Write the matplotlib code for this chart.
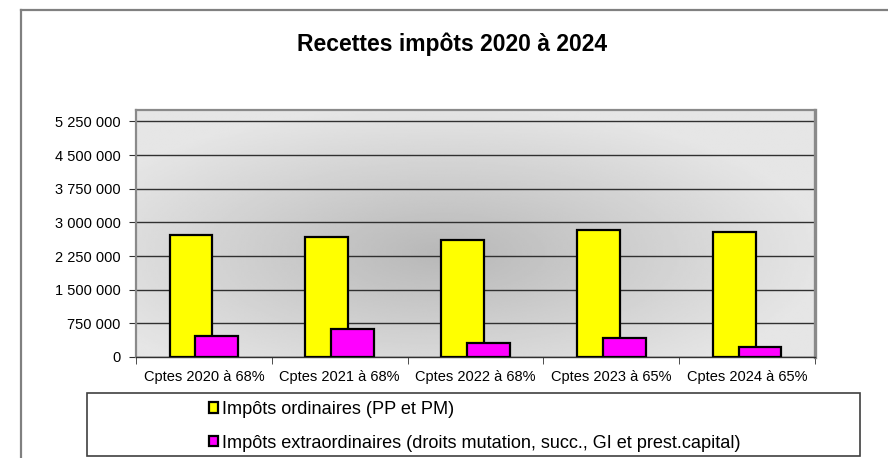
import numpy as np
import matplotlib
matplotlib.use("Agg")
import matplotlib.pyplot as plt
from matplotlib.patches import Patch, Rectangle
from matplotlib.lines import Line2D
from matplotlib.ticker import FuncFormatter

plt.rcParams["font.family"] = ["Liberation Sans", "DejaVu Sans"]

categories = ["Cptes 2020 à 68%", "Cptes 2021 à 68%", "Cptes 2022 à 68%",
              "Cptes 2023 à 65%", "Cptes 2024 à 65%"]
ordinaires = [2715000, 2680000, 2598000, 2821000, 2783000]
extraordinaires = [467000, 625000, 312000, 417000, 216000]
series_names = ["Impôts ordinaires (PP et PM)",
                "Impôts extraordinaires (droits mutation, succ., GI et prest.capital)"]
yticks = [0, 750000, 1500000, 2250000, 3000000, 3750000, 4500000, 5250000]
title = "Recettes impôts 2020 à 2024"

W, H = 888, 458
YEL, MAG = "#ffff00", "#ff00ff"
FS = 10.5

fig = plt.figure(figsize=(W / 100, H / 100), dpi=100)
ax = fig.add_axes([136 / W, 1 - 357 / H, (815 - 136) / W, (357 - 110) / H])

# radial grey background of the plot area
yy, xx = np.mgrid[0:1:200j, 0:1:300j]
r = np.sqrt(((xx - 0.45) / 0.75) ** 2 + ((yy - 0.58) / 0.8) ** 2)
bg = 0.72 + 0.18 * np.clip(r / 0.75, 0, 1)
ax.imshow(bg, cmap="gray", vmin=0, vmax=1, extent=[0, 1, 0, 1], transform=ax.transAxes,
          aspect="auto", zorder=0, interpolation="bilinear")

x = np.arange(len(categories))
ax.bar(x - 0.095, ordinaires, width=0.316, color=YEL, edgecolor="black", lw=1.6, zorder=3)
ax.bar(x + 0.095, extraordinaires, width=0.316, color=MAG, edgecolor="black", lw=1.6, zorder=4)

ax.set_xlim(-0.5, len(categories) - 0.5)
ax.set_ylim(0, 5505000)
ax.set_yticks(yticks)
ax.yaxis.set_major_formatter(FuncFormatter(lambda v, p: "{:,.0f}".format(v).replace(",", " ")))
ax.grid(axis="y", color="#303030", lw=1.0, zorder=1)
ax.set_axisbelow(True)
ax.set_xticks(x)
ax.set_xticklabels(categories)
ax.set_xticks(np.arange(-0.5, len(categories)), minor=True)
ax.tick_params(axis="x", which="major", length=0, pad=9, labelsize=FS)
ax.tick_params(axis="x", which="minor", length=5, direction="out", color="#303030")
ax.tick_params(axis="y", length=5, direction="out", color="#303030", labelsize=FS, pad=6)
for s in ["left", "top", "right"]:
    ax.spines[s].set_color("#8a8a8a")
    ax.spines[s].set_linewidth(1.6)
ax.spines["right"].set_linewidth(2.4)
ax.spines["bottom"].set_color("#303030")
ax.spines["bottom"].set_linewidth(1.0)

fig.text(452 / W, 1 - 44 / H, title, ha="center", va="center", fontsize=16.5, fontweight="bold")

# outer chart frame (left and top only visible)
fig.add_artist(Line2D([21 / W, 21 / W], [0, 1 - 10 / H], color="#808080", lw=1.6))
fig.add_artist(Line2D([21 / W, 1], [1 - 10 / H, 1 - 10 / H], color="#808080", lw=1.6))

# legend box
fig.add_artist(Rectangle((87 / W, 1 - 456 / H), (860 - 87) / W, (456 - 393) / H,
                         transform=fig.transFigure, fill=False, ec="#404040", lw=1.2))
handles = [Patch(facecolor=YEL, edgecolor="black", lw=1.6),
           Patch(facecolor=MAG, edgecolor="black", lw=1.6)]
fig.legend(handles, series_names, loc="upper left", bbox_to_anchor=(207 / W, 1 - 399 / H),
           frameon=False, fontsize=13.1, handlelength=0.5, handleheight=0.5,
           handletextpad=0.2, labelspacing=0.93, borderpad=0.1, borderaxespad=0)

fig.savefig("out.png", dpi=100)
